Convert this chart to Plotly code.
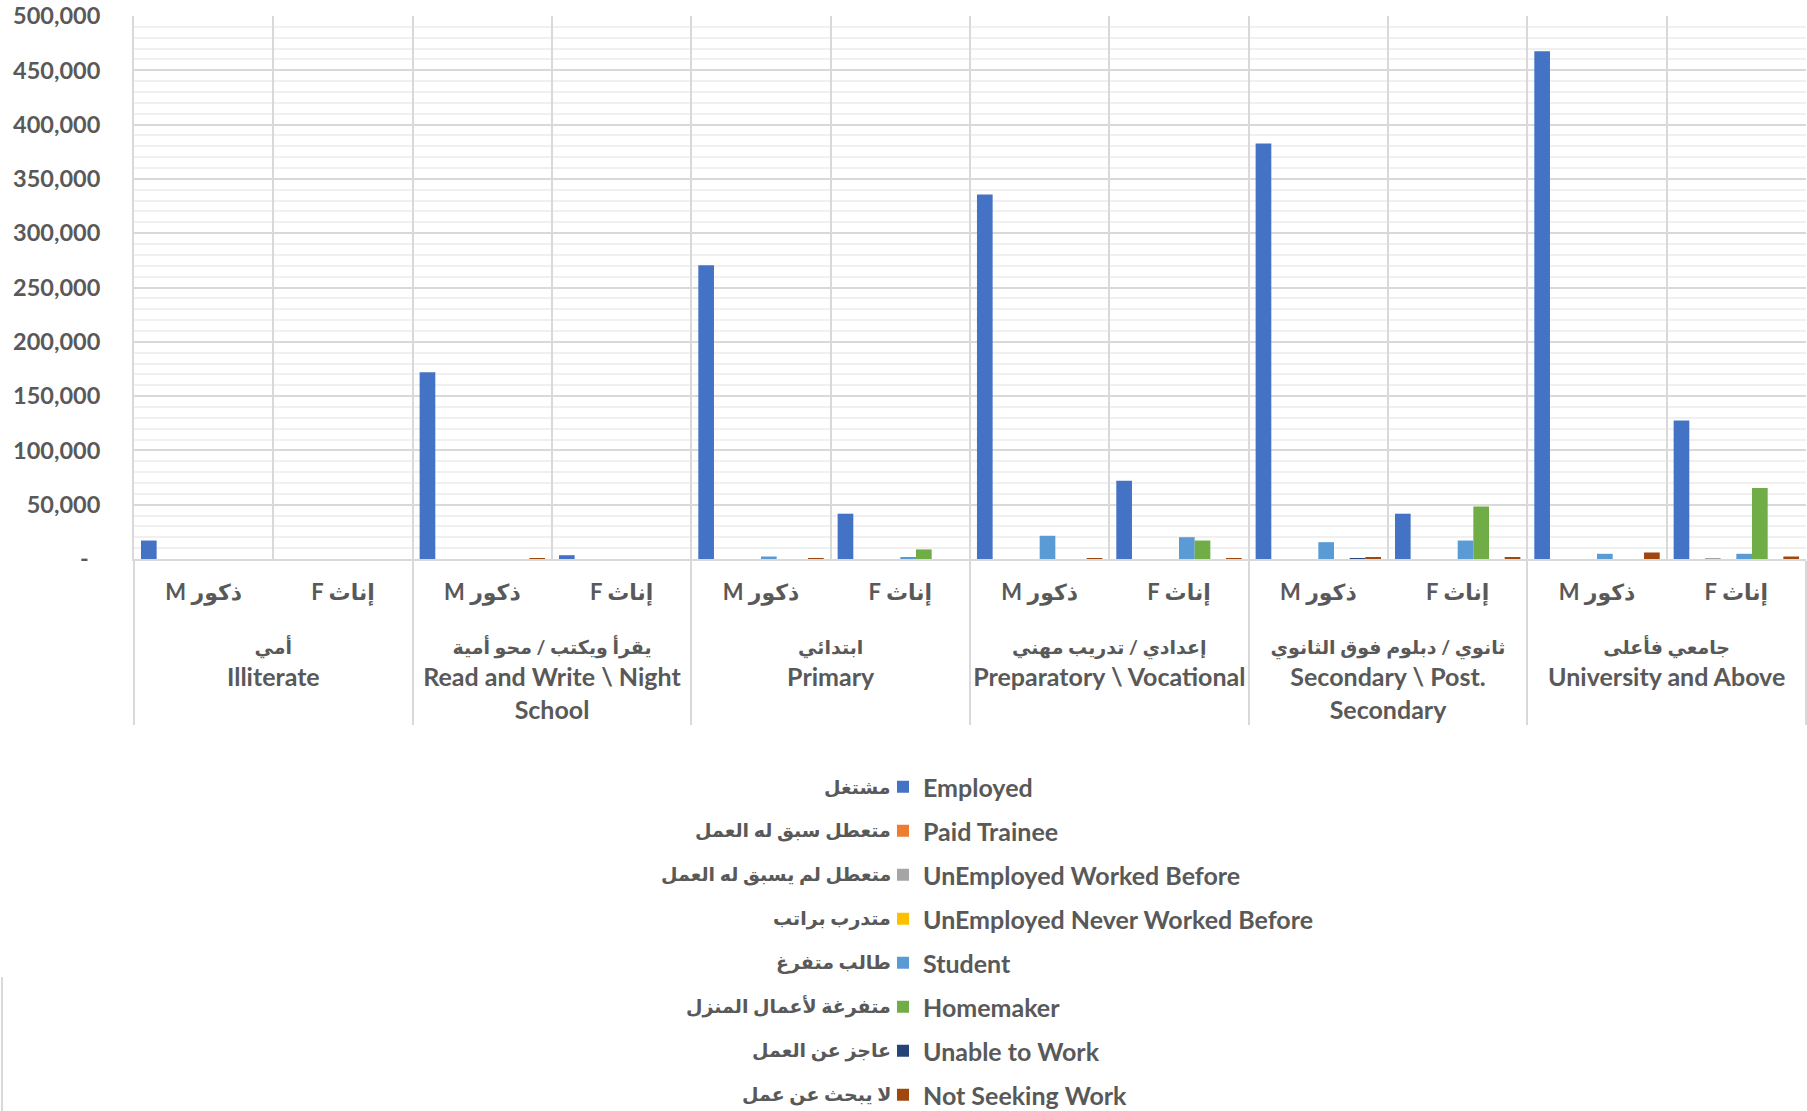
import plotly.graph_objects as go

# ---------------- data ----------------
levels_ar = ["أمي", "يقرأ ويكتب / محو أمية", "ابتدائي", "إعدادي / تدريب مهني",
             "ثانوي / دبلوم فوق الثانوي", "جامعي فأعلى"]
levels_en = ["Illiterate", "Read and Write \\ Night<br>School", "Primary",
             "Preparatory \\ Vocational", "Secondary \\ Post.<br>Secondary",
             "University and Above"]
genders = ["M ذكور", "F إناث"]

series_en = ["Employed", "Paid Trainee", "UnEmployed Worked Before",
             "UnEmployed Never Worked Before", "Student", "Homemaker",
             "Unable to Work", "Not Seeking Work"]
series_ar = ["مشتغل", "متعطل سبق له العمل", "متعطل لم يسبق له العمل",
             "متدرب براتب", "طالب متفرغ", "متفرغة لأعمال المنزل",
             "عاجز عن العمل", "لا يبحث عن عمل"]
colors = ["#4472C4", "#ED7D31", "#A5A5A5", "#FFC000",
          "#5B9BD5", "#70AD47", "#264478", "#9E480E"]

# order: Ill M, Ill F, RW M, RW F, Pri M, Pri F, Prep M, Prep F, Sec M, Sec F, Uni M, Uni F
employed     = [17000, 0, 172000, 3500, 270500, 41700, 335700, 72000, 382700, 41700, 467500, 127600]
paid_trainee = [0, 0, 0, 0, 0, 0, 0, 0, 0, 0, 0, 0]
unemp_worked = [0, 0, 0, 0, 0, 0, 0, 0, 0, 0, 0, 500]
unemp_never  = [0, 0, 0, 0, 0, 0, 0, 0, 0, 0, 0, 0]
student      = [0, 0, 0, 0, 2300, 1400, 21400, 20100, 15500, 17000, 4800, 4800]
homemaker    = [0, 0, 0, 0, 0, 8800, 0, 17000, 0, 48400, 0, 65300]
unable       = [0, 0, 0, 0, 0, 0, 0, 0, 300, 0, 0, 0]
not_seeking  = [0, 0, 800, 0, 300, 0, 700, 300, 1400, 1300, 6000, 2300]
series_vals = [employed, paid_trainee, unemp_worked, unemp_never,
               student, homemaker, unable, not_seeking]

y_tickvals = [0, 50000, 100000, 150000, 200000, 250000, 300000, 350000, 400000, 450000, 500000]
y_ticktext = ["-\u00a0\u00a0", "50,000", "100,000", "150,000", "200,000", "250,000",
              "300,000", "350,000", "400,000", "450,000", "500,000"]

# ---------------- figure ----------------
W, H = 1807, 1111
ML, MR, MT, MB = 134, 1, 16, 552
TXT = "#595959"
FONT = "Lato, DejaVu Sans, sans-serif"
AR_SIZE = 19

level_labels = [f"<br><span style='font-size:{AR_SIZE}px'>{a}</span><br>{e}"
                for a, e in zip(levels_ar, levels_en)]
gender_labels = [f"<span style='font-size:22px'>{g}</span>" for g in genders]

outer = [lv for lv in level_labels for _ in gender_labels]
inner = [g for _ in level_labels for g in gender_labels]

fig = go.Figure()
for i, (name, vals, col) in enumerate(zip(series_en, series_vals, colors)):
    fig.add_trace(go.Bar(
        x=[outer, inner], y=vals, name=name,
        marker=dict(color=col, line=dict(width=0)),
        legendgroup=f"g{i}",
    ))

plot_h = H - MT - MB
paper_w = W - ML - MR

def py(px):
    return (H - MB - px) / plot_h

def pxx(px):
    return (px - ML) / paper_w

legend_row0 = 786
legend_step = 44
annotations = []
for i, ar in enumerate(series_ar):
    annotations.append(dict(
        x=pxx(893), y=py(legend_row0 + i * legend_step), xref="paper", yref="paper",
        xanchor="right", yanchor="middle", showarrow=False, text=ar,
        font=dict(family=FONT, size=AR_SIZE, color=TXT, weight="bold"),
    ))

fig.update_layout(
    width=W, height=H,
    margin=dict(l=ML, r=MR, t=MT, b=MB, autoexpand=False),
    paper_bgcolor="white", plot_bgcolor="white",
    barmode="group", bargap=0.1, bargroupgap=0,
    font=dict(family=FONT, size=22, color=TXT, weight="bold"),
    showlegend=True,
    legend=dict(
        orientation="v", x=pxx(883), xanchor="left",
        y=py(legend_row0 - 22), yanchor="top",
        font=dict(family=FONT, size=25, color=TXT, weight="bold"),
        traceorder="grouped", tracegroupgap=8.5,
        bgcolor="rgba(0,0,0,0)",
    ),
    annotations=annotations,
    shapes=[dict(type="line", xref="paper", yref="paper",
                 x0=pxx(2), x1=pxx(2), y0=py(977), y1=py(1111),
                 line=dict(color="#d9d9d9", width=2))],
)

fig.update_yaxes(
    range=[0, 500000], tickvals=y_tickvals, ticktext=y_ticktext,
    showgrid=True, gridcolor="#d9d9d9", gridwidth=1.5,
    minor=dict(dtick=10000, showgrid=True, gridcolor="#f0f0f0", gridwidth=1.5),
    zeroline=False, showline=True, linecolor="#d9d9d9", linewidth=2,
    ticks="", ticklabelstandoff=27,
    tickfont=dict(family=FONT, size=23.5, color=TXT, weight="bold"),
)
fig.update_xaxes(
    type="multicategory", tickson="boundaries",
    showgrid=True, gridcolor="#d9d9d9", gridwidth=1.5,
    showline=True, linecolor="#d9d9d9", linewidth=2,
    showdividers=True, dividercolor="#d9d9d9", dividerwidth=2,
    ticks="outside", ticklen=18, tickcolor="rgba(0,0,0,0)",
    ticklabelstandoff=9,
    tickfont=dict(family=FONT, size=25, color=TXT, weight="bold"),
)

fig.write_html("out.html", config={"displayModeBar": False},
               post_script="document.body.style.margin='0';document.body.style.overflow='hidden';")
